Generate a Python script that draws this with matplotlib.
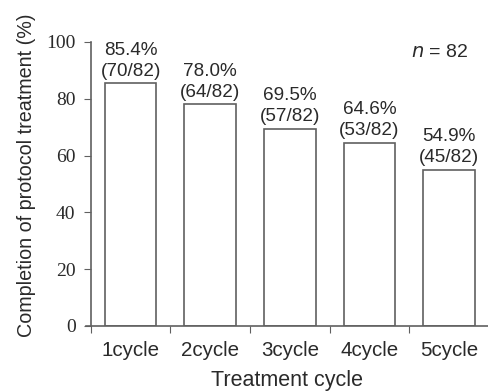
import matplotlib
matplotlib.use("Agg")
import matplotlib.pyplot as plt

# values
cycles = ["1cycle", "2cycle", "3cycle", "4cycle", "5cycle"]
completion = [85.4, 78.0, 69.5, 64.6, 54.9]
completed_n = [70, 64, 57, 53, 45]
total_n = 82
yticks = [0, 20, 40, 60, 80, 100]

gray = "#606060"
txt = "#2a2a2a"
sans = ["Liberation Sans", "DejaVu Sans"]
serif = ["Liberation Serif", "DejaVu Serif"]

fig = plt.figure(figsize=(4.89, 3.92), dpi=100)
ax = fig.add_axes([86 / 489, 66 / 392, 403 / 489, 284 / 392])

x = list(range(len(cycles)))
ax.bar(x, completion, width=0.65, color="white", edgecolor=gray, linewidth=1.2)

for xi, pct, k in zip(x, completion, completed_n):
    ax.text(xi, pct + 1.3, f"{pct:.1f}%\n({k}/{total_n})", ha="center", va="bottom",
            fontsize=13.6, family=sans, color=txt, linespacing=1.3)

ax.text(0.948, 0.962, r"$\it{n}$ = " + str(total_n), transform=ax.transAxes,
        ha="right", va="center", fontsize=14, family=sans, color=txt)

ax.set_xlim(-0.56, 4.47)
ax.set_ylim(0, 100)
ax.set_yticks(yticks)
ax.set_xticks([i - 0.5 for i in range(len(cycles) + 1)])
ax.set_xticks(x, minor=True)
ax.set_xticklabels([""] * (len(cycles) + 1))
ax.set_xticklabels(cycles, minor=True)
ax.tick_params(axis="x", which="minor", length=0, pad=11, labelsize=14.8,
               labelcolor=txt, labelfontfamily=sans)
ax.tick_params(axis="x", which="major", length=5, color=gray, direction="out")
ax.tick_params(axis="y", length=5, color=gray, direction="out", pad=6,
               labelcolor=txt, labelsize=14, labelfontfamily=serif)

ax.spines["top"].set_visible(False)
ax.spines["right"].set_visible(False)
ax.spines["left"].set_position(("data", -0.5))
for s in ("left", "bottom"):
    ax.spines[s].set_color(gray)
    ax.spines[s].set_linewidth(1.2)

ax.set_xlabel("Treatment cycle", family=sans, fontsize=15.5, color=txt)
ax.xaxis.set_label_coords(0.5, -0.155)
ax.set_ylabel("Completion of protocol treatment (%)", family=sans, fontsize=14.2,
              color=txt)
ax.yaxis.set_label_coords(-0.125, 0.532)

fig.savefig("out.png", dpi=100)
